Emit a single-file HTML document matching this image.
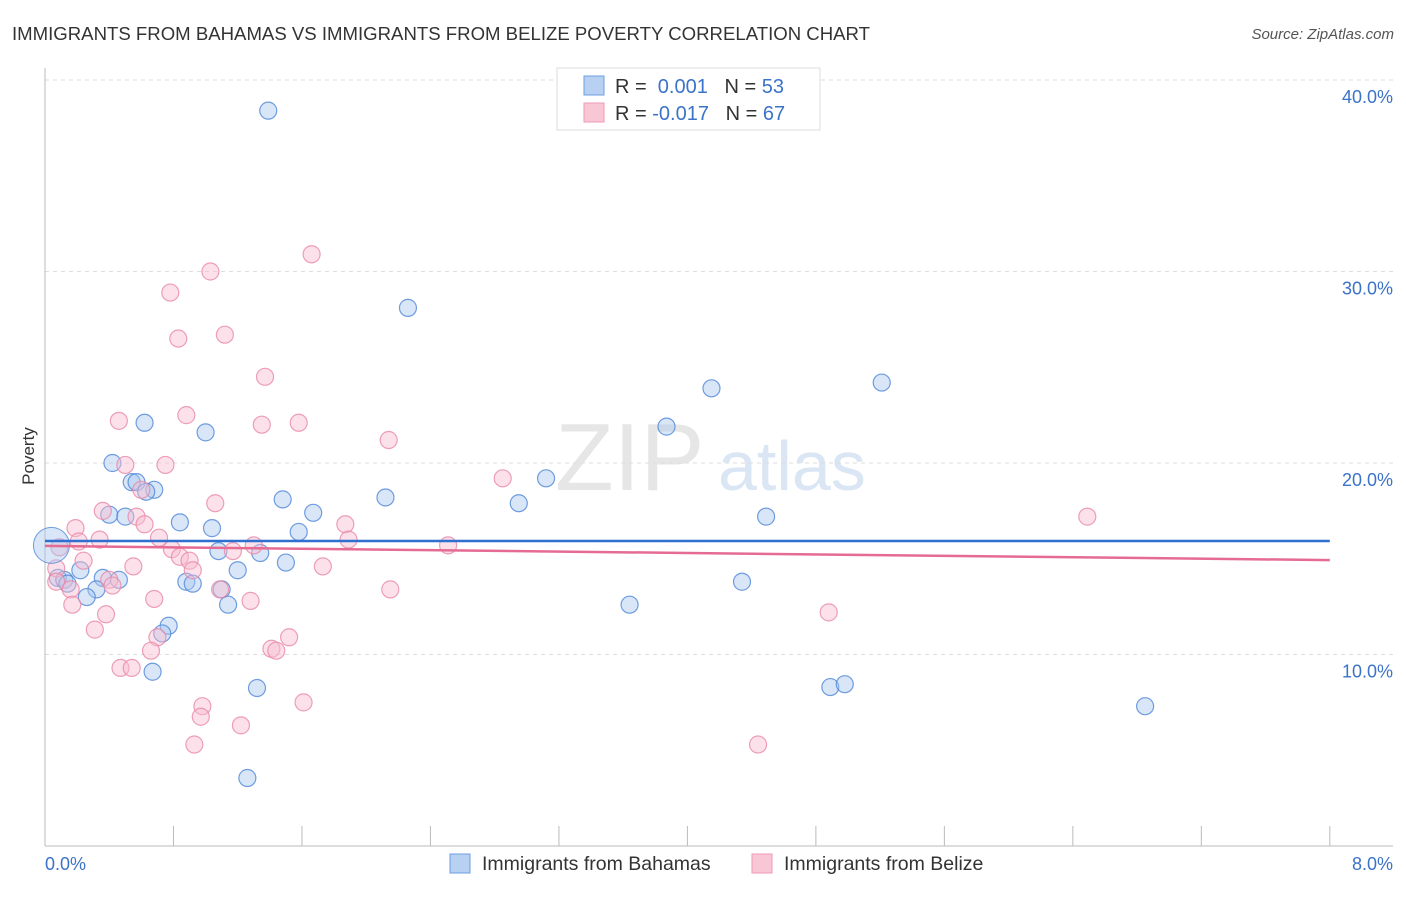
<!DOCTYPE html>
<html><head><meta charset="utf-8"><style>
body{margin:0;background:#fff;font-family:"Liberation Sans",sans-serif}
svg text{font-family:"Liberation Sans",sans-serif}
</style></head><body>
<svg width="1406" height="892" id="chart">
<text x="12" y="40" font-size="18" fill="#333" textLength="858" lengthAdjust="spacingAndGlyphs">IMMIGRANTS FROM BAHAMAS VS IMMIGRANTS FROM BELIZE POVERTY CORRELATION CHART</text>
<text x="1394" y="39" font-size="15" fill="#555" font-style="italic" text-anchor="end">Source: ZipAtlas.com</text>
<text x="555" y="490" font-size="96" fill="#e6e6e6" font-family="Liberation Serif">ZIP</text>
<text x="718" y="490" font-size="70" fill="#dbe6f5">atlas</text>
<g id="grid"></g>
<g id="axes"></g>
<g id="pts"></g>
<g id="lines"></g>
<text x="34" y="456" font-size="17" fill="#333" transform="rotate(-90 34 456)" text-anchor="middle">Poverty</text>
<text x="45" y="870" font-size="18" fill="#3b73c9">0.0%</text>
<text x="1393" y="870" font-size="18" fill="#3b73c9" text-anchor="end">8.0%</text>
<g>
<rect x="557" y="68" width="263" height="62" fill="#fff" stroke="#ddd"/>
<rect x="584" y="76" width="20" height="19" fill="#b8d1f3" stroke="#6d9ee0"/>
<rect x="584" y="103" width="20" height="19" fill="#f9c6d5" stroke="#ee9ab4"/>
<text x="615" y="93" font-size="20" fill="#333">R = <tspan fill="#3b73c9">&#160;0.001</tspan>&#160;&#160;&#160;N = <tspan fill="#3b73c9">53</tspan></text>
<text x="615" y="120" font-size="20" fill="#333">R = <tspan fill="#3b73c9">-0.017</tspan>&#160;&#160;&#160;N = <tspan fill="#3b73c9">67</tspan></text>
</g>
<g>
<rect x="450" y="854" width="20" height="19" fill="#b8d1f3" stroke="#6d9ee0"/>
<text x="482" y="870" font-size="19.5" fill="#333">Immigrants from Bahamas</text>
<rect x="752" y="854" width="20" height="19" fill="#f9c6d5" stroke="#ee9ab4"/>
<text x="784" y="870" font-size="19.5" fill="#333">Immigrants from Belize</text>
</g>
</svg>
<script>
const yTicks=[10,20,30,40];
const yTickLabels=["10.0%","20.0%","30.0%","40.0%"];
const xTicks=[0,0.8,1.6,2.4,3.2,4,4.8,5.6,6.4,7.2,8];
const bahamasX=[1.39,2.26,0.62,1.00,0.42,0.54,0.57,0.68,0.63,0.40,0.50,0.84,1.04,1.48,1.67,1.58,2.12,2.95,3.12,3.87,4.15,5.21,4.49,1.08,1.34,1.50,1.20,0.22,0.36,0.08,0.12,0.46,0.88,0.92,0.32,1.10,0.26,4.34,1.14,3.64,0.77,0.73,0.67,1.32,4.89,4.98,6.85,1.26,0.14];
const bahamasY=[38.4,28.1,22.1,21.6,20.0,19.0,19.0,18.6,18.5,17.3,17.2,16.9,16.6,18.1,17.4,16.4,18.2,17.9,19.2,21.9,23.9,24.2,17.2,15.4,15.3,14.8,14.4,14.4,14.0,14.0,13.9,13.9,13.8,13.7,13.4,13.4,13.0,13.8,12.6,12.6,11.5,11.1,9.1,8.25,8.3,8.45,7.3,3.55,13.7];
const belizeX=[1.66,1.03,0.78,1.12,0.83,1.37,0.88,0.46,1.35,1.58,2.14,0.75,0.50,2.85,0.60,1.06,0.36,0.57,6.49,0.62,1.87,0.19,0.71,1.89,0.21,0.34,2.51,1.30,1.17,0.79,0.84,0.90,0.24,0.92,1.73,0.55,0.07,0.07,0.40,0.42,0.16,1.09,2.15,0.68,1.28,0.17,0.38,4.88,0.31,1.52,0.70,0.66,1.41,1.44,0.47,0.54,0.98,0.97,1.61,1.22,0.93,4.44,0.09];
const belizeY=[30.9,30.0,28.9,26.7,26.5,24.5,22.5,22.2,22.0,22.1,21.2,19.9,19.9,19.2,18.6,17.9,17.5,17.2,17.2,16.8,16.8,16.6,16.1,16.0,15.9,16.0,15.7,15.7,15.4,15.5,15.1,14.9,14.9,14.4,14.6,14.6,14.5,13.8,13.9,13.6,13.4,13.4,13.4,12.9,12.8,12.6,12.1,12.2,11.3,10.9,10.9,10.2,10.3,10.2,9.3,9.3,7.3,6.75,7.5,6.3,5.3,5.3,15.6];
const bahamasTrend=[15.93,15.93];
const belizeTrend=[15.67,14.93];
const NS="http://www.w3.org/2000/svg";
const X=v=>45+v*160.6, Y=v=>846-v*19.15;
function mk(tag,attrs,parent){const e=document.createElementNS(NS,tag);for(const k in attrs)e.setAttribute(k,attrs[k]);document.getElementById(parent).appendChild(e);return e;}
yTicks.forEach((t,i)=>{
 let l=mk('line',{x1:45,x2:1393,y1:Y(t),y2:Y(t),stroke:'#ddd','stroke-dasharray':'4,4'},'grid');
 
 
 let tx=mk('text',{x:1393,y:Y(t)+23,'font-size':18,fill:'#3b73c9','text-anchor':'end'},'grid');
 tx.textContent=yTickLabels[i];
 
 
});
let ax=mk('line',{x1:45,x2:45,y1:68,y2:846,stroke:'#bbb'},'axes');


let bx=mk('line',{x1:45,x2:1393,y1:846,y2:846,stroke:'#bbb'},'axes');


xTicks.forEach(t=>{let l=mk('line',{x1:X(t),x2:X(t),y1:826,y2:846,stroke:'#bbb'},'axes');
 
 });
function pts(xs,ys,fill,stroke,name){xs.forEach((x,i)=>{
 let c=mk('circle',{cx:X(x),cy:Y(ys[i]),r:8.5,fill:fill,'fill-opacity':0.45,stroke:stroke,'stroke-width':1.2,'stroke-opacity':0.8},'pts');
 
 });}
pts(bahamasX,bahamasY,'#a9c7f0','#4f86d8','bahamas-point');
pts(belizeX,belizeY,'#f8bcd0','#e888a8','belize-point');
let big=mk('circle',{cx:X(0.04),cy:Y(15.7),r:18,fill:'#a9c7f0','fill-opacity':0.45,stroke:'#4f86d8','stroke-opacity':0.8},'pts');


let t1=mk('line',{x1:X(0),x2:X(8),y1:Y(bahamasTrend[0]),y2:Y(bahamasTrend[1]),stroke:'#2f6fd0','stroke-width':2.5},'lines');


let t2=mk('line',{x1:X(0),x2:X(8),y1:Y(belizeTrend[0]),y2:Y(belizeTrend[1]),stroke:'#e56b93','stroke-width':2.5},'lines');


</script>
</body></html>
